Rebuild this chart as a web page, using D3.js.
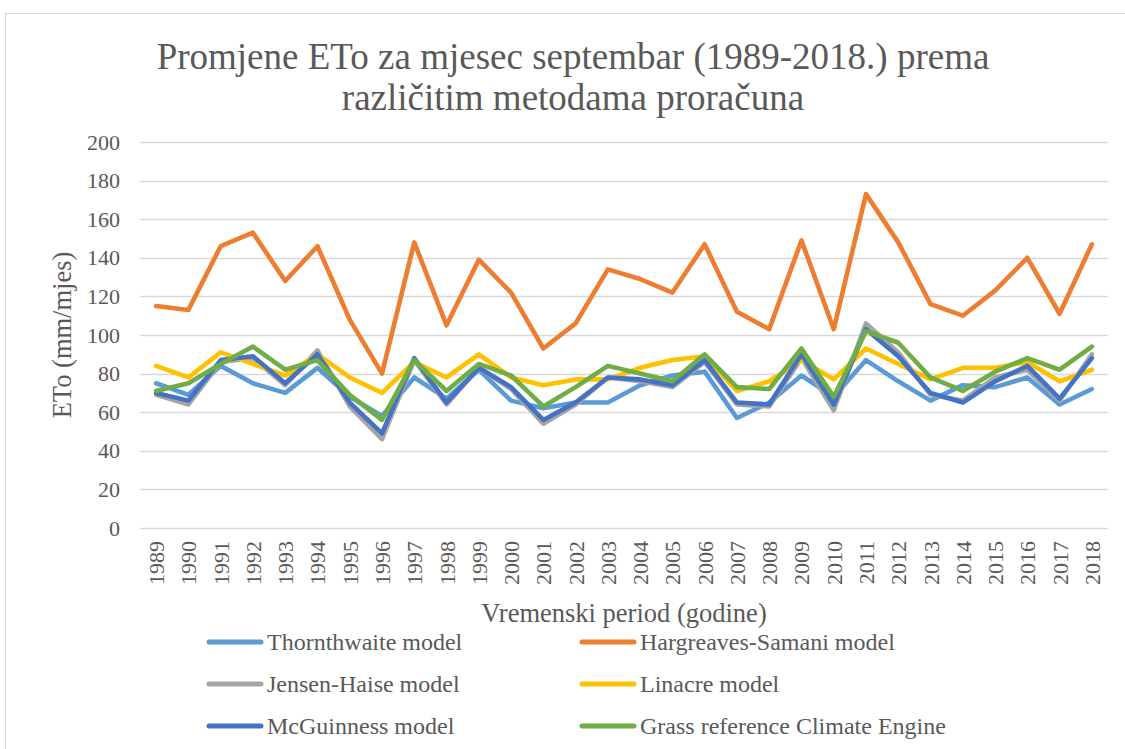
<!DOCTYPE html>
<html>
<head>
<meta charset="utf-8">
<script src="https://cdn.jsdelivr.net/npm/d3@7"></script>
<style>
  html, body { margin: 0; padding: 0; background: #fff; }
  text { font-family: "Liberation Serif", "Times New Roman", serif; fill: #595959; }
</style>
</head>
<body>
<div id="chart"></div>
<script>
const years = d3.range(1989, 2019)

const thornthwaite = [75, 69, 84, 75, 70, 83, 68, 58, 78, 67, 82, 66, 62, 65, 65, 74, 79, 81, 57, 65, 79, 68, 87, 76, 66, 74, 73, 78, 64, 72]
const hargreaves = [115, 113, 146, 153, 128, 146, 108, 80, 148, 105, 139, 122, 93, 106, 134, 129, 122, 147, 112, 103, 149, 103, 173, 148, 116, 110, 123, 140, 111, 147]
const jensen = [69, 64, 86, 88, 74, 92, 63, 46, 87, 64, 83, 72, 54, 64, 78, 76, 73, 86, 64, 63, 88, 61, 106, 91, 69, 66, 78, 82, 66, 90]
const linacre = [84, 78, 91, 85, 79, 90, 78, 70, 86, 78, 90, 78, 74, 77, 77, 83, 87, 89, 71, 76, 87, 77, 93, 85, 77, 83, 83, 86, 76, 82]
const mcguinness = [70, 66, 87, 89, 75, 90, 65, 49, 88, 65, 83, 73, 56, 65, 78, 77, 74, 87, 65, 64, 90, 64, 103, 89, 70, 65, 76, 84, 67, 88]
const grass = [71, 75, 85, 94, 82, 87, 69, 56, 87, 71, 85, 79, 63, 73, 84, 80, 76, 90, 73, 72, 93, 68, 102, 96, 78, 71, 81, 88, 82, 94]

const seriesNames = ['Thornthwaite model', 'Hargreaves-Samani model', 'Jensen-Haise model', 'Linacre model', 'McGuinness model', 'Grass reference Climate Engine']
const seriesValues = [thornthwaite, hargreaves, jensen, linacre, mcguinness, grass]
const colors = ['#5B9BD5', '#ED7D31', '#A5A5A5', '#FFC000', '#4472C4', '#70AD47']
const yTicks = [0, 20, 40, 60, 80, 100, 120, 140, 160, 180, 200]

const width = 1125
const height = 749
const plot = { left: 140, right: 1108, top: 142, bottom: 528 }

const svg = d3.select('#chart').append('svg')
    .attr('width', width)
    .attr('height', height)

// chart border (only left/top visible)
svg.append('rect')
    .attr('x', 5.5).attr('y', 13.5)
    .attr('width', 1160).attr('height', 760)
    .attr('fill', 'none')
    .attr('stroke', '#D9D9D9')

const x = d3.scalePoint()
    .domain(years)
    .range([plot.left, plot.right])
    .padding(0.5)

const y = d3.scaleLinear()
    .domain([0, 200])
    .range([plot.bottom, plot.top])

// gridlines
svg.append('g')
    .selectAll('line')
    .data(yTicks)
    .enter()
    .append('line')
    .attr('x1', plot.left)
    .attr('x2', plot.right)
    .attr('y1', (d) => Math.round(y(d)) + 0.5)
    .attr('y2', (d) => Math.round(y(d)) + 0.5)
    .attr('stroke', '#D9D9D9')
    .attr('stroke-width', 1.3)

// y axis labels
const yAxis = svg.append('g')
    .attr('transform', 'translate(' + (plot.left - 20) + ',0)')
    .call(d3.axisLeft(y).tickValues(yTicks).tickSize(0).tickPadding(0))
yAxis.select('.domain').remove()
yAxis.selectAll('text')
    .attr('font-size', 22)
    .attr('font-family', '"Liberation Serif", serif')
    .attr('fill', '#595959')

// x axis labels (rotated)
const xAxis = svg.append('g')
    .attr('transform', 'translate(0,' + (plot.bottom + 13) + ')')
    .call(d3.axisBottom(x).tickSize(0).tickPadding(0))
xAxis.select('.domain').remove()
xAxis.selectAll('text')
    .attr('font-size', 22)
    .attr('font-family', '"Liberation Serif", serif')
    .attr('fill', '#595959')
    .attr('text-anchor', 'end')
    .attr('transform', 'rotate(-90)')
    .attr('x', 0)
    .attr('y', 0)
    .attr('dy', '0.34em')

// lines
const line = d3.line()
    .x((d, i) => x(years[i]))
    .y((d) => y(d))

svg.append('g')
    .selectAll('path')
    .data(seriesValues)
    .enter()
    .append('path')
    .attr('d', (d) => line(d))
    .attr('fill', 'none')
    .attr('stroke', (d, i) => colors[i])
    .attr('stroke-width', 4.6)
    .attr('stroke-linejoin', 'round')
    .attr('stroke-linecap', 'round')

// title
const title = svg.append('text')
    .attr('text-anchor', 'middle')
    .attr('font-size', 37)
title.append('tspan').attr('x', 573).attr('y', 69).text('Promjene ETo za mjesec septembar (1989-2018.) prema')
title.append('tspan').attr('x', 573).attr('y', 110).text('različitim metodama proračuna')

// axis titles
svg.append('text')
    .attr('text-anchor', 'middle')
    .attr('font-size', 26.5)
    .attr('x', (plot.left + plot.right) / 2)
    .attr('y', 622)
    .text('Vremenski period (godine)')

svg.append('text')
    .attr('text-anchor', 'middle')
    .attr('font-size', 26.5)
    .attr('transform', 'translate(62,' + (plot.top + plot.bottom) / 2 + ') rotate(-90)')
    .attr('dy', '0.35em')
    .text('ETo (mm/mjes)')

// legend
const legendCols = [207, 580]
const legendRows = [642, 684, 726]
const legend = svg.append('g')
    .selectAll('g')
    .data(seriesNames)
    .enter()
    .append('g')
    .attr('transform', (d, i) => 'translate(' + legendCols[i % 2] + ',' + legendRows[Math.floor(i / 2)] + ')')

legend.append('line')
    .attr('x1', 2).attr('x2', 54)
    .attr('stroke', (d, i) => colors[i])
    .attr('stroke-width', 5)
    .attr('stroke-linecap', 'round')

legend.append('text')
    .attr('x', 60)
    .attr('dy', '0.33em')
    .attr('font-size', 24)
    .text((d) => d)
</script>
</body>
</html>
